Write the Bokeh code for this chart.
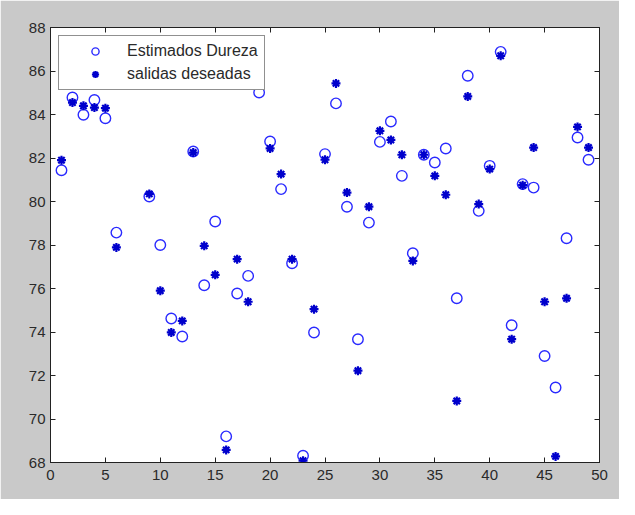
import math
from bokeh.plotting import figure
from bokeh.models import Range1d, FixedTicker, LinearAxis, Legend, LegendItem, ColumnDataSource
from bokeh.embed import file_html
from bokeh.resources import INLINE

nan = float("nan")

x_index = list(range(1, 50))

estimados_dureza = [
    81.44, 84.78, 83.99, 84.67, 83.83, 78.57, nan, nan, 80.23, 78.00,
    74.62, 73.79, 82.30, 76.15, 79.08, 69.20, 75.77, 76.58, 85.01, 82.76,
    80.57, 77.16, 68.31, 73.98, 82.18, 84.51, 79.76, 73.67, 79.03, 82.74,
    83.68, 81.18, 77.62, 82.15, 81.79, 82.44, 75.55, 85.78, 79.57, 81.64,
    86.88, 74.31, 80.80, 80.64, 72.90, 71.45, 78.31, 82.94, 81.92,
]

salidas_deseadas = [
    81.90, 84.55, 84.40, 84.32, 84.29, 77.89, nan, nan, 80.35, 75.90,
    73.98, 74.51, 82.25, 77.96, 76.63, 68.58, 77.35, 75.39, nan, 82.44,
    81.26, 77.35, 68.08, 75.05, 81.92, 85.43, 80.41, 72.22, 79.76, 83.25,
    82.83, 82.15, 77.27, 82.15, 81.18, 80.31, 70.83, 84.83, 79.88, 81.49,
    86.70, 73.67, 80.75, 82.48, 75.39, 68.28, 75.55, 83.43, 82.48,
]

x_ticks = [0, 5, 10, 15, 20, 25, 30, 35, 40, 45, 50]
y_ticks = [68, 70, 72, 74, 76, 78, 80, 82, 84, 86, 88]
legend_labels = ["Estimados Dureza", "salidas deseadas"]

src = ColumnDataSource(dict(x=x_index, est=estimados_dureza, des=salidas_deseadas))

GRAY = "#c9c9c9"
FONT = "Liberation Sans"

p = figure(
    width=619, height=499,
    x_range=Range1d(0, 50), y_range=Range1d(68, 88),
    output_backend="svg", toolbar_location=None,
    min_border_left=50, min_border_right=20, min_border_top=27, min_border_bottom=37,
    x_axis_location=None, y_axis_location=None,
)
p.background_fill_color = "white"
p.border_fill_color = GRAY
p.outline_line_color = "#222222"
p.outline_line_width = 1
p.xgrid.visible = False
p.ygrid.visible = False

def style_axis(ax, ticks, show_labels, standoff):
    ax.ticker = FixedTicker(ticks=ticks)
    ax.axis_line_color = "#222222"
    ax.major_tick_line_color = "#222222"
    ax.major_tick_in = 5
    ax.major_tick_out = 0
    ax.minor_tick_line_color = None
    ax.major_label_standoff = standoff
    ax.major_label_text_font = FONT
    if show_labels:
        ax.major_label_text_font_size = "15px"
        ax.major_label_text_color = "#2a2a2a"
    else:
        ax.major_label_text_font_size = "2px"
        ax.major_label_text_color = None
        ax.major_label_standoff = 0

bx = LinearAxis()
style_axis(bx, x_ticks, True, 7)
p.add_layout(bx, "below")
ly = LinearAxis()
style_axis(ly, y_ticks, True, 5)
p.add_layout(ly, "left")
tx = LinearAxis()
style_axis(tx, x_ticks, False, 0)
p.add_layout(tx, "above")
ry = LinearAxis()
style_axis(ry, y_ticks, False, 0)
p.add_layout(ry, "right")

r_est = p.scatter("x", "est", source=src, marker="circle", size=10.5,
                  fill_color=None, line_color="#2a2aff", line_width=1.4)
r_des = p.scatter("x", "des", source=src, marker="asterisk", size=9,
                  line_color="#0000cc", line_width=2.2)

legend = Legend(
    items=[LegendItem(label=legend_labels[0], renderers=[r_est]),
           LegendItem(label=legend_labels[1], renderers=[r_des])],
    location="top_left",
    margin=8,
    padding=6,
    spacing=5,
    glyph_width=60,
    glyph_height=18,
    label_height=18,
    label_standoff=2,
    label_text_font=FONT,
    label_text_font_size="16px",
    label_text_color="#2a2a2a",
    border_line_color="#222222",
    border_line_width=1,
    background_fill_color="white",
    background_fill_alpha=1.0,
)
p.add_layout(legend, "center")

open("out.html", "w").write(file_html(p, INLINE))
